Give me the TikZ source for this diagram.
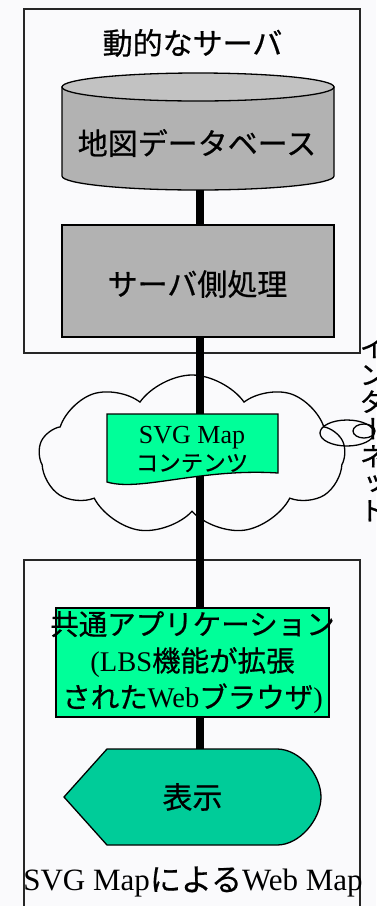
\documentclass[tikz,border=0pt]{standalone}
\usepackage{fontspec}
\setmainfont{Liberation Serif}
\newfontfamily\jp[FakeBold=0.6]{Noto Sans CJK JP}
\newfontfamily\jpvert[RawFeature=+vert,FakeBold=0.6]{Noto Sans CJK JP}
\usetikzlibrary{shapes.symbols}

\definecolor{bgcol}{RGB}{250,250,252}
\definecolor{srvgray}{RGB}{178,178,178}
\definecolor{topgray}{RGB}{194,194,194}
\definecolor{appgreen}{RGB}{0,255,153}
\definecolor{dispgreen}{RGB}{0,204,153}

\tikzset{
  frame/.style={draw=black!85, line width=1.1pt},
  box/.style={draw, line width=1.3pt},
  link/.style={line width=7.5pt},
  jbig/.style={font=\fontsize{30}{36}\selectfont\jp, inner sep=0pt},
}

\begin{document}
\begin{tikzpicture}[x=1pt,y=-1pt]
  \useasboundingbox (0,0) rectangle (376,906);
  \fill[bgcol] (0,0) rectangle (376,906);

  % Frames
  \draw[frame] (24,9) rectangle (360,353);
  \draw[frame] (24,915) -- (24,560) -- (360,560) -- (360,915);

  % Cloud and its bubbles
  \node[cloud, draw, line width=1.3pt, cloud puffs=9, cloud puff arc=110, aspect=2, minimum width=306pt, minimum height=160pt] (net) at (192,455) {};
  \draw[line width=1.3pt] (347,433) ellipse [x radius=27pt, y radius=13pt];
  \draw[line width=1.3pt] (364,431) ellipse [x radius=11pt, y radius=7pt];
  \node[inner sep=0pt, align=center, font=\fontsize{27}{27.2}\selectfont\jpvert] (inet) at (373,429) {イ\\ン\\タ\\ー\\ネ\\ッ\\ト};

  % Server
  \node[jbig] (srv) at (192.5,43) {動的なサーバ};
  \filldraw[fill=srvgray, box] (62,87) -- (62,176) arc[start angle=180, end angle=360, x radius=136pt, y radius=14pt] -- (334,87) -- cycle;
  \filldraw[fill=topgray, box] (198,87) ellipse [x radius=136pt, y radius=14pt];
  \node[jbig] (db) at (197,143) {地図データベース};
  \coordinate (dbbot) at (200,190);
  \node[box, fill=srvgray, minimum width=272pt, minimum height=112pt] (proc) at (198,281) {};
  \node[jbig] (proctext) at (197.5,284) {サーバ側処理};

  % Client
  \node[box, fill=appgreen, minimum width=273pt, minimum height=109pt] (app) at (192.5,662.5) {};
  \node[align=center, inner sep=0pt, font=\fontsize{28.5}{36.5}\selectfont] (apptext) at (app) {{\jp 共通アプリケーション}\\(LBS{\jp 機能が拡張}\\{\jp された}Web{\jp ブラウザ})};
  \filldraw[fill=dispgreen, box] (64,797) -- (107,749) -- (277,749) .. controls (300,749) and (321,775) .. (321,797) .. controls (321,819) and (300,845) .. (277,845) -- (107,845) -- cycle;
  \node[jbig, minimum width=257pt, minimum height=96pt] (disp) at (192.5,797) {表示};
  \node[font=\fontsize{31}{36}\selectfont, inner sep=0pt] (webmap) at (193,882) {SVG Map{\jp による}Web Map};

  % Links
  \draw[link] (dbbot) -- (dbbot |- proc.north);
  \draw[link] (dbbot |- proc.south) -- (dbbot |- app.north);
  \draw[link] (dbbot |- app.south) -- (dbbot |- disp.north);

  % Content
  \filldraw[fill=appgreen, box] (107,414) -- (278,414) -- (278,473) .. controls (200,468) and (140,492) .. (107,482) -- cycle;
  \node[align=center, inner sep=0pt, font=\fontsize{26}{28}\selectfont] (doc) at (192,449) {SVG Map\\{\jp\fontsize{22.5}{28}\selectfont コンテンツ}};
\end{tikzpicture}
\end{document}
